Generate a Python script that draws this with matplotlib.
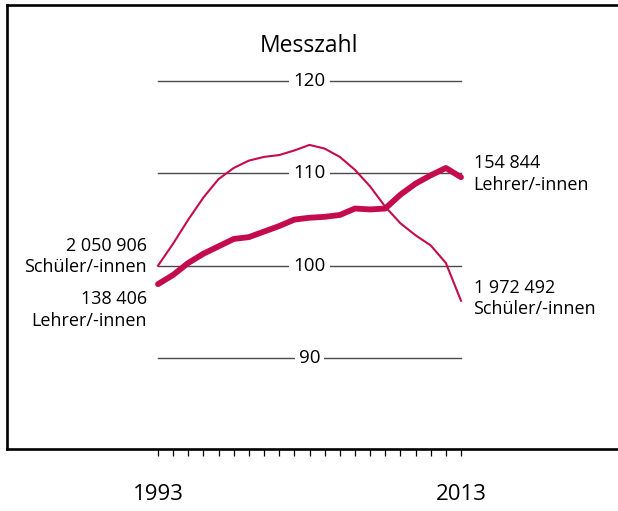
import matplotlib
matplotlib.use("Agg")
import matplotlib.pyplot as plt

plt.rcParams['font.family'] = ['Open Sans', 'DejaVu Sans']

years = list(range(1993, 2014))
schueler = [100.0, 102.4, 105.0, 107.4, 109.4, 110.6, 111.4, 111.8, 112.0, 112.5,
            113.1, 112.7, 111.8, 110.4, 108.6, 106.4, 104.6, 103.3, 102.2, 100.3, 96.2]
lehrer = [98.0, 99.0, 100.3, 101.3, 102.1, 102.9, 103.1, 103.7, 104.3, 105.0,
          105.2, 105.3, 105.5, 106.2, 106.1, 106.2, 107.7, 108.9, 109.8, 110.6, 109.6]
grid_values = [120, 110, 100, 90]
tick_labels = {1993: "1993", 2013: "2013"}
title = "Messzahl"
left_labels = [("2 050 906", "Schüler/-innen"), ("138 406", "Lehrer/-innen")]
right_labels = [("154 844", "Lehrer/-innen"), ("1 972 492", "Schüler/-innen")]

W, H = 618, 511
RED = "#C30B4E"
fig = plt.figure(figsize=(W / 100, H / 100), dpi=100)

# axes frame: left x=7, top y=5.5, bottom y=448.7, right off-image
l, r, t, b = 7, 625, 5.5, 448.7
ax = fig.add_axes([l / W, 1 - b / H, (r - l) / W, (b - t) / H])
ax.set_xlim(1983.033, 2023.825)
ax.set_ylim(80.152, 128.22)
for s in ["left", "top", "bottom"]:
    ax.spines[s].set_linewidth(1.9)
    ax.spines[s].set_color("black")
ax.spines["right"].set_visible(False)

ax.set_yticks([])
ax.set_xticks(years)
ax.set_xticklabels([tick_labels.get(y, "") for y in years], fontsize=16)
ax.tick_params(axis="x", direction="out", length=5, width=0.9, pad=20.5, color="black")

# grid lines with labels
for v in grid_values:
    ax.plot([years[0], years[-1]], [v, v], color="#4a4a4a", lw=1.0, zorder=1)
    ax.text((years[0] + years[-1]) / 2, v, str(v), ha="center", va="center",
            fontsize=13.5, zorder=2,
            bbox=dict(facecolor="white", edgecolor="none", pad=3))

ax.plot(years, schueler, color=RED, lw=1.5, zorder=3, solid_joinstyle="round")
ax.plot(years, lehrer, color=RED, lw=4.2, zorder=4,
        solid_capstyle="round", solid_joinstyle="round")

def ftxt(x, y, s, ha, size=13):
    fig.text(x / W, 1 - y / H, s, ha=ha, va="baseline", fontsize=size)

# title
ftxt(309.5, 52, title, "center", 16.5)
# left labels (right aligned)
ftxt(147, 251, left_labels[0][0], "right")
ftxt(147, 272, left_labels[0][1], "right")
ftxt(147, 304, left_labels[1][0], "right")
ftxt(147, 326, left_labels[1][1], "right")
# right labels
ftxt(473.5, 168, right_labels[0][0], "left")
ftxt(473.5, 190, right_labels[0][1], "left")
ftxt(473.5, 293, right_labels[1][0], "left")
ftxt(473.5, 314, right_labels[1][1], "left")

fig.savefig("out.png", dpi=100)
